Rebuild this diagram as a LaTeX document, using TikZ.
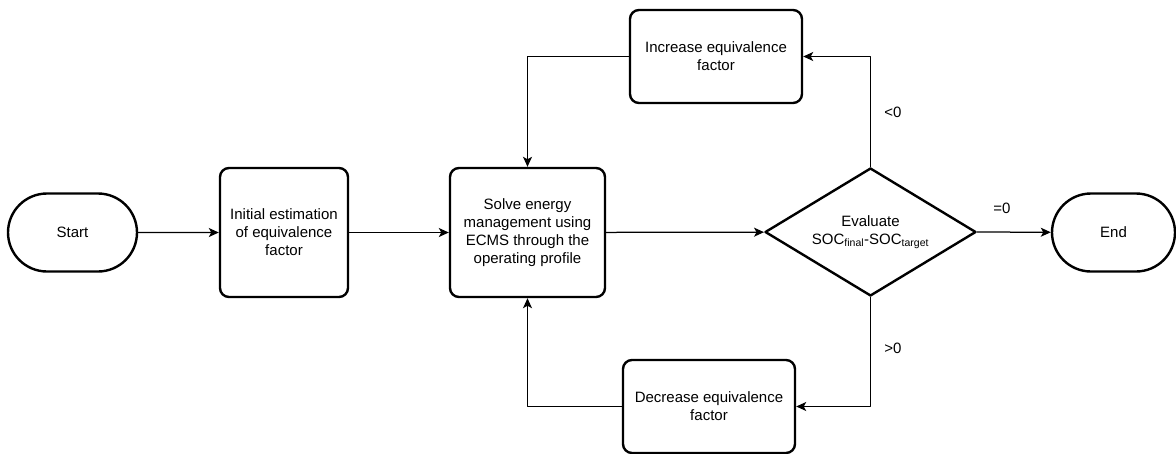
\documentclass[tikz,border=0pt]{standalone}
\usepackage{fontspec}
\setmainfont{Liberation Sans}
\usetikzlibrary{arrows.meta,shapes.geometric,shapes.misc}

\begin{document}
\begin{tikzpicture}[line cap=round,line join=round,x=1pt,y=-1pt,
    font=\fontsize{15pt}{18pt}\selectfont,
    term/.style={draw,line width=2.4pt,rounded rectangle,minimum width=129pt,minimum height=78pt,inner sep=0pt},
    stepbox/.style={draw,line width=2.4pt,rounded corners=9pt,align=center,inner sep=0pt},
    decision/.style={draw,line width=2.4pt,diamond,aspect=1.6,align=center,inner sep=0pt,minimum width=211pt,minimum height=128pt},
    flow/.style={line width=1.25pt,-{Stealth[length=10pt,width=9pt,inset=2.5pt]}}]
  \useasboundingbox (0,0) rectangle (1176,453);
  \node[term] (start) at (72.5,232.5) {Start};
  \node[stepbox,minimum width=128pt,minimum height=129pt] (init) at (284,232.5) {Initial estimation\\of equivalence\\factor};
  \node[stepbox,minimum width=155pt,minimum height=129pt] (solve) at (527.5,232.5) {Solve energy\\management using\\ECMS through the\\operating profile};
  \node[decision] (eval) at (870.5,232) {Evaluate\\SOC\textsubscript{final}-SOC\textsubscript{target}};
  \node[term,minimum width=123pt] (end) at (1113.5,232.5) {End};
  \node[stepbox,minimum width=172pt,minimum height=93pt] (inc) at (716,56.5) {Increase equivalence\\factor};
  \node[stepbox,minimum width=172pt,minimum height=93pt] (dec) at (709,406.5) {Decrease equivalence\\factor};
  \node (lt) at (893,112) {<0};
  \node (gt) at (893,348) {>0};
  \node (eq) at (1002,208) {=0};
  \draw[flow] (start) -- (init);
  \draw[flow] (init) -- (solve);
  \draw[flow] (solve) -- (eval);
  \draw[flow] (eval.east) -- (end);
  \draw[flow] (eval.north) |- (inc.east);
  \draw[flow] (inc.west) -| (solve.north);
  \draw[flow] (eval.south) |- (dec.east);
  \draw[flow] (dec.west) -| (solve.south);
\end{tikzpicture}
\end{document}
